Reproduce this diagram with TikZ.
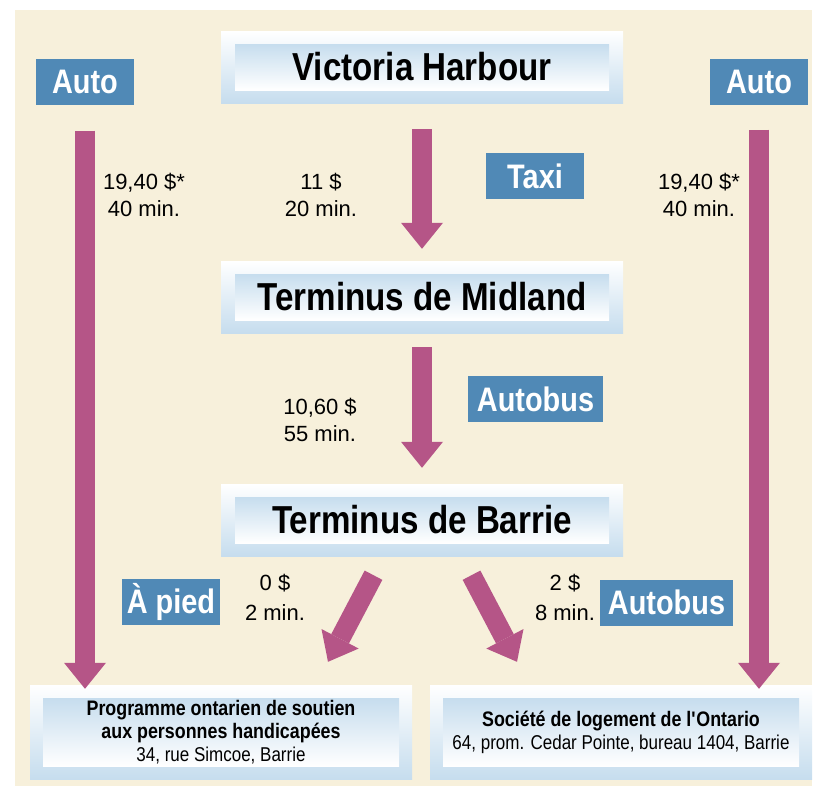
\documentclass[tikz,border=0pt]{standalone}
\usepackage{fontspec}
\setmainfont{Liberation Sans}
\newfontfamily\condfont{Liberation Sans}[FakeStretch=0.85]
\usetikzlibrary{arrows.meta,positioning,calc}
\definecolor{beige}{HTML}{F7F0DB}
\definecolor{modeblue}{HTML}{5089B6}
\definecolor{arrowpink}{HTML}{B55587}
\definecolor{pale}{HTML}{C6DDEE}

\begin{document}
\begin{tikzpicture}[x=1pt,y=-1pt,
  outerbox/.style={top color=white,bottom color=pale,inner sep=0pt,
    minimum width=402pt,minimum height=72pt},
  innerbox/.style={top color=pale,bottom color=white,inner sep=0pt,
    minimum width=374pt,minimum height=46pt,
    font=\condfont\bfseries\fontsize{39}{40}\selectfont},
  modebox/.style={fill=modeblue,text=white,inner sep=0pt,
    minimum width=98pt,minimum height=46pt,
    font=\condfont\bfseries\fontsize{34}{34}\selectfont},
  cost/.style={align=center,font=\fontsize{22}{27}\selectfont},
  fat/.style={draw=arrowpink,line width=20pt,
    -{Triangle[width=42pt,length=26pt,line width=0pt]}}]
\useasboundingbox (0,0) rectangle (820,787);
\fill[beige] (15,10) rectangle (812,786);

% stations
\node[outerbox] (vh) at (422,67) {};
\node[innerbox] (vhin) at (vh) {Victoria Harbour};
\node[outerbox] (mid) at (422,297) {};
\node[innerbox] (midin) at (mid) {Terminus de Midland};
\node[outerbox] (bar) at (422,520) {};
\node[innerbox] (barin) at (bar) {Terminus de Barrie};
\node[outerbox,minimum width=382pt,minimum height=94pt] (opl) at (221,732) {};
\node[innerbox,minimum width=356pt,minimum height=68pt,align=center,
  font=\condfont\bfseries\fontsize{21}{23}\selectfont] (oplin) at (opl)
  {Programme ontarien de soutien\\aux personnes handicapées\\
   {\mdseries\fontsize{20}{20}\selectfont 34, rue Simcoe, Barrie}};
\node[outerbox,minimum width=382pt,minimum height=94pt] (slo) at (621,732) {};
\node[innerbox,minimum width=356pt,minimum height=68pt,align=center,
  font=\condfont\bfseries\fontsize{21}{23}\selectfont] (sloin) at (slo)
  {Société de logement de l\textquotesingle Ontario\\
   {\mdseries\fontsize{20}{20}\selectfont 64, prom. Cedar Pointe, bureau 1404, Barrie}};

% modes
\node[modebox] (autoL) at (85,81.5) {Auto};
\node[modebox] (autoR) at (759,81.5) {Auto};
\node[modebox] (taxi) at (535,176) {Taxi};
\node[modebox,minimum width=135pt] (busA) at (535.5,399) {Autobus};
\node[modebox] (pied) at (171,602) {À pied};
\node[modebox,minimum width=133pt] (busB) at (666.5,602.5) {Autobus};

% arrows
\draw[fat] ([shift={(0,26)}]vh.south) -- ([shift={(0,-12)}]mid.north);
\draw[fat] ([shift={(0,14)}]mid.south) -- ([shift={(0,-16)}]bar.north);
\draw[fat] ([shift={(0,26)}]autoL.south) -- ($(autoL |- opl.north)+(0,4)$);
\draw[fat] ([shift={(0,25)}]autoR.south) -- ($(autoR |- slo.north)+(0,4)$);
\draw[fat] ([shift={(-48.5,19)}]bar.south) -- ([shift={(107,-23)}]opl.north);
\draw[fat] ([shift={(49.5,19)}]bar.south) -- ([shift={(-104,-23)}]slo.north);

% prices
\node[cost] (cL) at (144,195) {19,40 \$*\\40 min.};
\node[cost] (cTaxi) at (321,195) {11 \$\\20 min.};
\node[cost] (cR) at (699,195) {19,40 \$*\\40 min.};
\node[cost] (cBus) at (320,420) {10,60 \$\\55 min.};
\node[cost] (cPied) at (275,597) {0 \$\\[3pt]2 min.};
\node[cost] (cBusB) at (565,597) {2 \$\\[3pt]8 min.};
\end{tikzpicture}
\end{document}
